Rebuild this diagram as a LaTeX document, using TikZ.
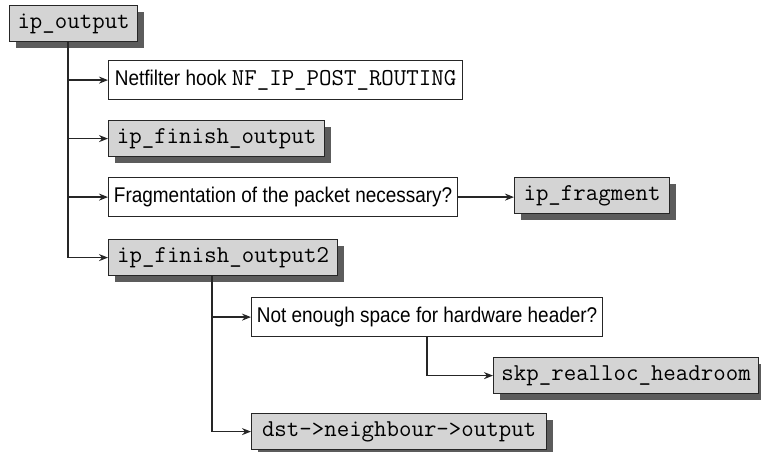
\documentclass[tikz,border=0pt]{standalone}
\usepackage{fontspec}
\setmainfont{Liberation Sans}[FakeStretch=0.89]
\usetikzlibrary{arrows.meta,shadows}
\definecolor{boxgray}{HTML}{D4D4D4}
\definecolor{shadowgray}{HTML}{5C5C5C}
\definecolor{linegray}{HTML}{262626}
\newcommand{\fnfont}{\fontsize{24.2}{26}\ttfamily}
\begin{document}
\begin{tikzpicture}[x=1pt,y=-1pt,
  base/.style={draw=linegray, line width=1.2pt, inner sep=0pt, anchor=north west, align=center},
  fnbox/.style={base, fill=boxgray, font=\fnfont, minimum height=36pt,
     drop shadow={shadow xshift=6pt, shadow yshift=-6pt, fill=shadowgray, opacity=1}},
  qbox/.style={base, fill=white, font=\fontsize{21.3}{24}\selectfont, minimum height=39pt},
  conn/.style={draw=linegray, line width=1.6pt},
  arr/.style={conn, -{Stealth[length=9pt,width=7pt]}}
]
\useasboundingbox (0,0) rectangle (761,452);

\node[fnbox, minimum width=128pt] (out) at (9,5) {ip\_output};
\node[qbox, minimum width=354pt] (nf) at (108,60) {Netfilter hook {\fnfont NF\_IP\_POST\_ROUTING}};
\node[fnbox, minimum width=216pt] (fin) at (108,120) {ip\_finish\_output};
\node[qbox, minimum width=349pt] (frag) at (108,177) {Fragmentation of the packet necessary?};
\node[fnbox, minimum width=155pt] (ipfrag) at (514,177) {ip\_fragment};
\node[fnbox, minimum width=229pt] (fin2) at (108,239) {ip\_finish\_output2};
\node[qbox, minimum width=351pt] (ne) at (251,297) {Not enough space for hardware header?};
\node[fnbox, minimum width=265pt] (skp) at (493,357) {skp\_realloc\_headroom};
\node[fnbox, minimum width=295pt] (dst) at (251,413) {dst->neighbour->output};

\coordinate (t1) at (68,0);
\coordinate (t2) at (212,0);
\coordinate (t3) at (427,0);

% main trunk
\draw[arr] (out.south -| t1) |- (fin2.west);
\draw[arr] (t1 |- nf.west) -- (nf.west);
\draw[arr] (t1 |- fin.west) -- (fin.west);
\draw[arr] (t1 |- frag.west) -- (frag.west);
\draw[arr] (frag.east) -- (frag.east -| ipfrag.west);

% second trunk
\draw[arr] (fin2.south -| t2) |- (dst.west);
\draw[arr] (t2 |- ne.west) -- (ne.west);
\draw[arr] (ne.south -| t3) |- (skp.west);
\end{tikzpicture}
\end{document}
